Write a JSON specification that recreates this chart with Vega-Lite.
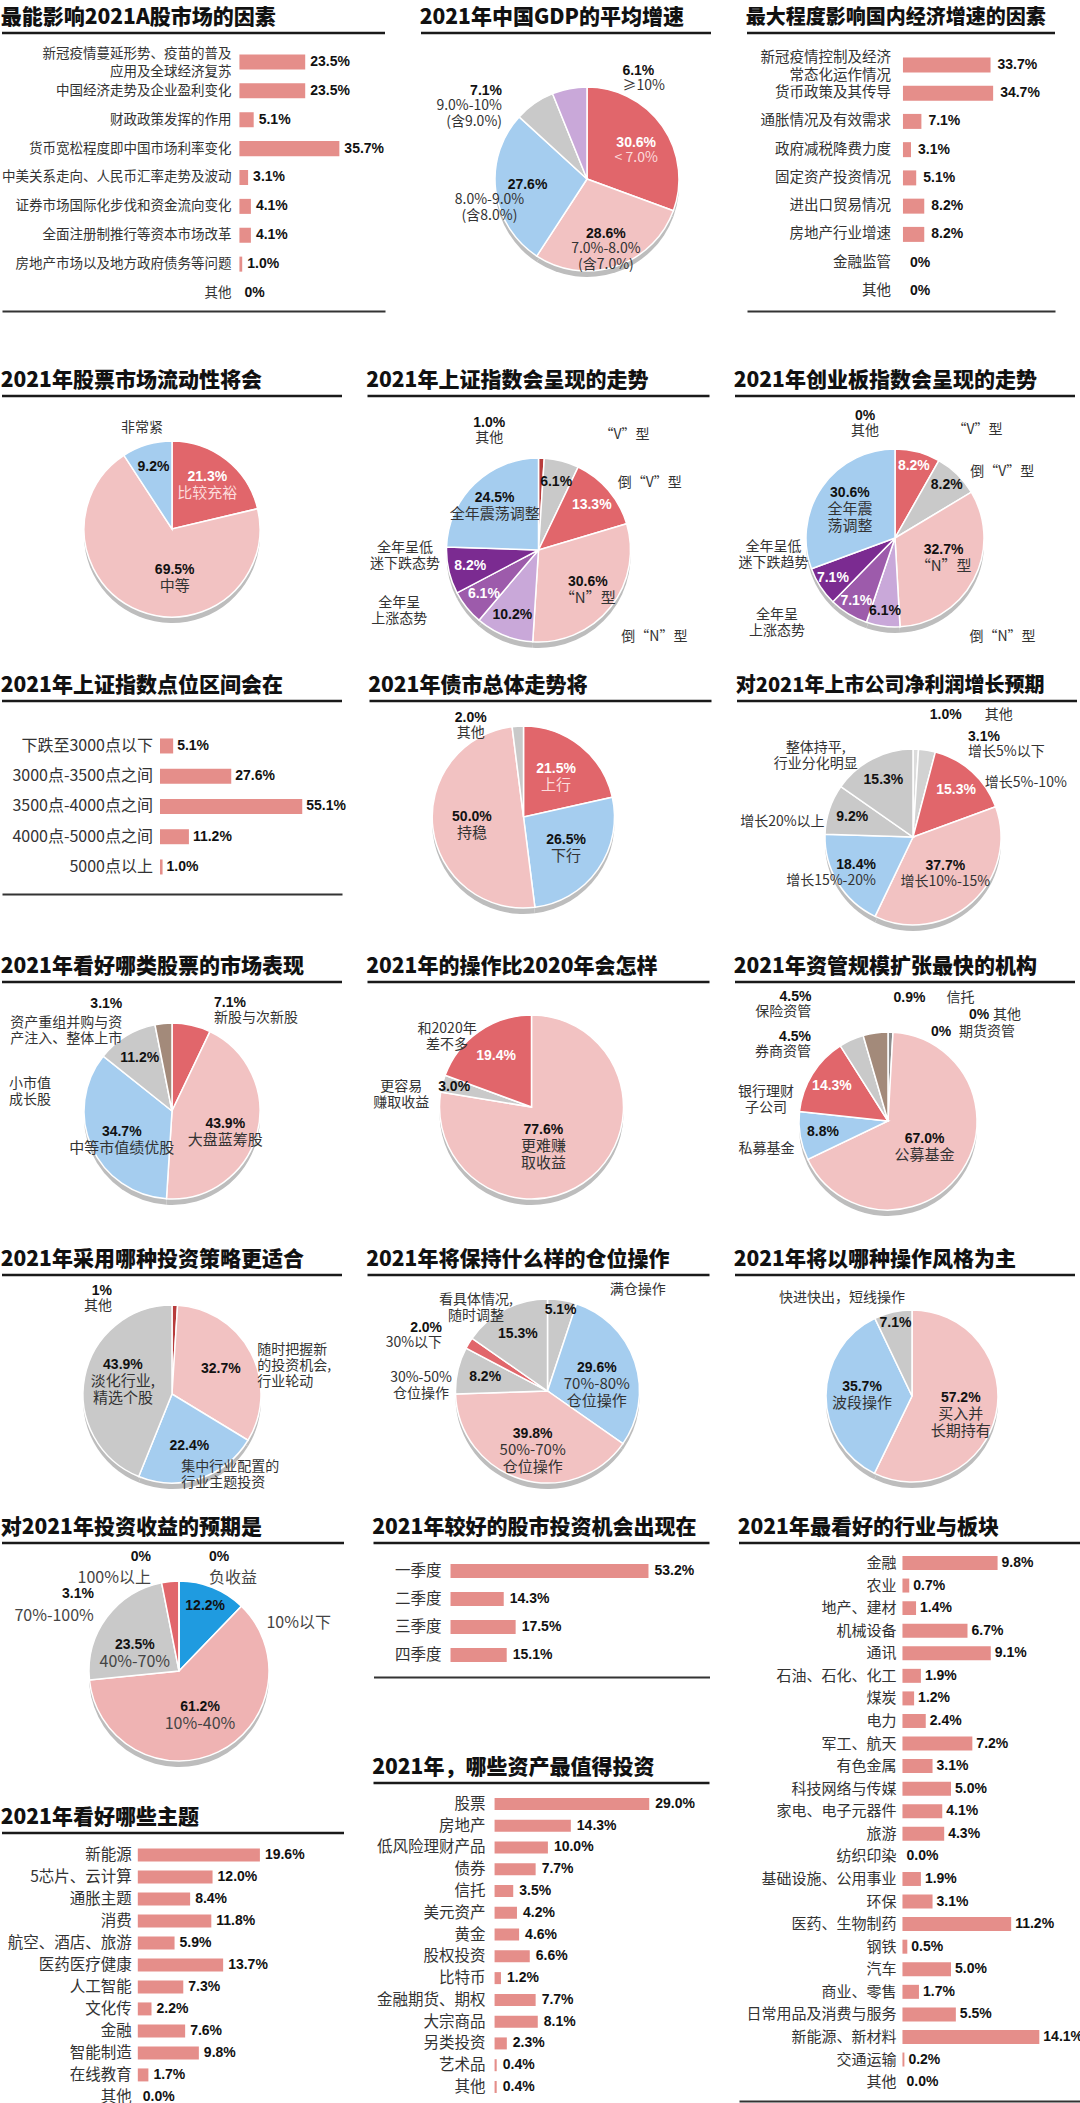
{
"$schema":"https://vega.github.io/schema/vega-lite/v6.json",
"background":"#ffffff",
"padding":{"top":7,"left":0,"right":0,"bottom":0},
"config":{
 "view":{"stroke":null},
 "title":{"anchor":"start","font":"Noto Sans CJK SC","fontSize":21,"fontWeight":900,"color":"#111111","offset":3,"baseline":"alphabetic"},
 "text":{"font":"Noto Sans CJK SC","fontSize":14,"lineBreak":"\n"},
 "style":{"pct":{"font":"Liberation Sans Narrow, Liberation Sans, Arial, sans-serif","fontWeight":"bold","fontSize":14.5},"nm":{"font":"Noto Sans CJK SC","fontSize":14}}
},
"resolve":{"scale":{"color":"independent","theta":"independent"}},
"spacing":47,
"vconcat":[
{"spacing":32,"resolve":{"scale":{"color":"independent","theta":"independent"}},"hconcat":[
 {"spacing":0,"vconcat":[
  {"width":383,"height":2,"title":"最能影响2021A股市场的因素","data":{"values":[{"t":1}]},"mark":{"type":"rule","color":"#1a1a1a","strokeWidth":2.5},"encoding":{"y":{"datum":0,"type":"quantitative","scale":{"domain":[0,1]},"axis":null}}},
  {"width":383,"height":276,"data":{"values":[
   {"k":"新冠疫情蔓延形势、疫苗的普及\n应用及全球经济复苏","v":23.5,"t":"23.5%"},
   {"k":"中国经济走势及企业盈利变化","v":23.5,"t":"23.5%"},
   {"k":"财政政策发挥的作用","v":5.1,"t":"5.1%"},
   {"k":"货币宽松程度即中国市场利率变化","v":35.7,"t":"35.7%"},
   {"k":"中美关系走向、人民币汇率走势及波动","v":3.1,"t":"3.1%"},
   {"k":"证券市场国际化步伐和资金流向变化","v":4.1,"t":"4.1%"},
   {"k":"全面注册制推行等资本市场改革","v":4.1,"t":"4.1%"},
   {"k":"房地产市场以及地方政府债务等问题","v":1.0,"t":"1.0%"},
   {"k":"其他","v":0,"t":"0%"}]},
   "encoding":{"y":{"field":"k","type":"nominal","sort":null,"axis":null,"scale":{"paddingInner":0.48,"paddingOuter":0.519,"align":0.65}}},
   "layer":[
    {"mark":{"type":"bar","color":"#e58e8a"},"encoding":{"x":{"field":"v","type":"quantitative","scale":{"domain":[-84.8,52],"nice":false,"zero":false},"axis":{"orient":"bottom","domain":true,"domainColor":"#333333","domainWidth":2,"ticks":false,"labels":false,"grid":false,"title":null}},"x2":{"datum":0}}},
    {"mark":{"type":"rule","color":"#333333","strokeWidth":1.5},"encoding":{"x":{"datum":0}}},
    {"transform":[{"filter":"indexof(datum.k,'\\n')<0"}],"mark":{"type":"text","align":"right","dx":-8,"fontSize":13.5,"color":"#333333"},"encoding":{"x":{"datum":0},"text":{"field":"k"}}},
    {"transform":[{"filter":"indexof(datum.k,'\\n')>=0"}],"mark":{"type":"text","align":"right","dx":-8,"dy":-8,"fontSize":13.5,"lineHeight":18,"color":"#333333"},"encoding":{"x":{"datum":0},"text":{"field":"k"}}},
    {"mark":{"type":"text","style":"pct","align":"left","dx":5,"color":"#111111"},"encoding":{"x":{"field":"v","type":"quantitative"},"text":{"field":"t"}}}
   ]}
 ]},
 {"spacing":0,"vconcat":[
  {"width":290,"height":2,"title":"2021年中国GDP的平均增速","data":{"values":[{"t":1}]},"mark":{"type":"rule","color":"#1a1a1a","strokeWidth":2.5},"encoding":{"y":{"datum":0,"type":"quantitative","scale":{"domain":[0,1]},"axis":null}}},
  {"width":290,"height":288,
   "data":{"values":[{"k":"a","v":30.6,"pct":"30.6%","name":"< 7.0%"},{"k":"b","v":28.6,"pct":"28.6%","name":"7.0%-8.0%\n(含7.0%)"},{"k":"c","v":27.6,"pct":"27.6%","name":"8.0%-9.0%\n(含8.0%)"},{"k":"d","v":7.1,"pct":"7.1%","name":"9.0%-10%\n(含9.0%)"},{"k":"e","v":6.1,"pct":"6.1%","name":"≥10%"}]},
   "transform":[{"window":[{"op":"row_number","as":"o"}]}],
   "encoding":{"theta":{"field":"v","type":"quantitative","stack":true},"order":{"field":"o","type":"quantitative"}},
   "layer":[
    {"mark":{"type":"arc","outerRadius":92,"color":"#bdbdbd","xOffset":21,"yOffset":6}},
    {"mark":{"type":"arc","outerRadius":92,"stroke":"#ffffff","strokeWidth":1.5,"xOffset":21},"encoding":{"color":{"field":"k","type":"nominal","legend":null,"scale":{"domain":["a","b","c","d","e"],"range":["#e1666b","#f2c2c2","#a5cdef","#c9c9c9","#c9a8d9"]}}}},
    {"mark":{"type":"text","clip":true,"style":"pct","radius":60,"xOffset":21,"dy":5,"baseline":"bottom"},"encoding":{"text":{"condition":{"test":"indexof(['a','b','c'],datum.k)>=0","field":"pct"},"value":""},"color":{"condition":{"test":"datum.k=='a'","value":"#ffffff"},"value":"#111111"}}},
    {"mark":{"type":"text","clip":true,"style":"nm","radius":60,"xOffset":21,"dy":6,"baseline":"top"},"encoding":{"text":{"condition":{"test":"indexof(['a','b'],datum.k)>=0","field":"name"},"value":""},"color":{"condition":{"test":"datum.k=='a'","value":"#fcdcdc"},"value":"#333333"}}},
    {"mark":{"type":"text","clip":true,"style":"nm","radius":60,"xOffset":21,"dx":-38,"dy":6,"baseline":"top"},"encoding":{"text":{"condition":{"test":"datum.k=='c'","field":"name"},"value":""},"color":{"value":"#333333"}}},
    {"mark":{"type":"text","clip":true,"style":"pct","radius":100,"xOffset":21,"dx":-28,"dy":1,"align":"right","baseline":"bottom"},"encoding":{"text":{"condition":{"test":"datum.k=='d'","field":"pct"},"value":""},"color":{"value":"#111111"}}},
    {"mark":{"type":"text","clip":true,"style":"nm","radius":100,"xOffset":21,"dx":-28,"dy":2,"align":"right","baseline":"top"},"encoding":{"text":{"condition":{"test":"datum.k=='d'","field":"name"},"value":""},"color":{"value":"#333333"}}},
    {"mark":{"type":"text","clip":true,"style":"pct","radius":103,"xOffset":21,"dx":55,"align":"left","baseline":"bottom"},"encoding":{"text":{"condition":{"test":"datum.k=='e'","field":"pct"},"value":""},"color":{"value":"#111111"}}},
    {"mark":{"type":"text","clip":true,"style":"nm","radius":103,"xOffset":21,"dx":55,"dy":1,"align":"left","baseline":"top"},"encoding":{"text":{"condition":{"test":"datum.k=='e'","field":"name"},"value":""},"color":{"value":"#333333"}}}
   ]}
 ]},
 {"spacing":0,"vconcat":[
  {"width":308,"height":2,"title":{"text":"最大程度影响国内经济增速的因素","fontSize":20},"data":{"values":[{"t":1}]},"mark":{"type":"rule","color":"#1a1a1a","strokeWidth":2.5},"encoding":{"y":{"datum":0,"type":"quantitative","scale":{"domain":[0,1]},"axis":null}}},
  {"width":308,"height":276,"data":{"values":[
   {"k":"新冠疫情控制及经济\n常态化运作情况","v":33.7,"t":"33.7%"},
   {"k":"货币政策及其传导","v":34.7,"t":"34.7%"},
   {"k":"通胀情况及有效需求","v":7.1,"t":"7.1%"},
   {"k":"政府减税降费力度","v":3.1,"t":"3.1%"},
   {"k":"固定资产投资情况","v":5.1,"t":"5.1%"},
   {"k":"进出口贸易情况","v":8.2,"t":"8.2%"},
   {"k":"房地产行业增速","v":8.2,"t":"8.2%"},
   {"k":"金融监管","v":0,"t":"0%"},
   {"k":"其他","v":0,"t":"0%"}]},
   "encoding":{"y":{"field":"k","type":"nominal","sort":null,"axis":null,"scale":{"paddingInner":0.469,"paddingOuter":0.62,"align":0.64}}},
   "layer":[
    {"mark":{"type":"bar","color":"#e58e8a"},"encoding":{"x":{"field":"v","type":"quantitative","scale":{"domain":[-60,58.5],"nice":false,"zero":false},"axis":{"orient":"bottom","domain":true,"domainColor":"#333333","domainWidth":2,"ticks":false,"labels":false,"grid":false,"title":null}},"x2":{"datum":0}}},
    {"mark":{"type":"rule","color":"#333333","strokeWidth":1.5},"encoding":{"x":{"datum":0}}},
    {"transform":[{"filter":"indexof(datum.k,'\\n')<0"}],"mark":{"type":"text","align":"right","dx":-12,"fontSize":14.5,"color":"#333333"},"encoding":{"x":{"datum":0},"text":{"field":"k"}}},
    {"transform":[{"filter":"indexof(datum.k,'\\n')>=0"}],"mark":{"type":"text","align":"right","dx":-12,"dy":-7,"fontSize":14.5,"lineHeight":18,"color":"#333333"},"encoding":{"x":{"datum":0},"text":{"field":"k"}}},
    {"mark":{"type":"text","style":"pct","align":"left","dx":7,"color":"#111111"},"encoding":{"x":{"field":"v","type":"quantitative"},"text":{"field":"t"}}}
   ]}
 ]}
]},
{"spacing":7,"resolve":{"scale":{"color":"independent","theta":"independent"}},"vconcat":[
{"spacing":21.5,"resolve":{"scale":{"color":"independent","theta":"independent"}},"hconcat":[
 {"spacing":0,"vconcat":[
  {"width":340,"height":2,"title":"2021年股票市场流动性将会","data":{"values":[{"t":1}]},"mark":{"type":"rule","color":"#1a1a1a","strokeWidth":2.5},"encoding":{"y":{"datum":0,"type":"quantitative","scale":{"domain":[0,1]},"axis":null}}},
  {"width":340,"height":262,
   "data":{"values":[{"k":"a","v":21.3,"pct":"21.3%","name":"比较充裕"},{"k":"b","v":69.5,"pct":"69.5%","name":"中等"},{"k":"c","v":9.2,"pct":"9.2%","name":"非常紧"}]},
   "transform":[{"window":[{"op":"row_number","as":"o"}]}],
   "encoding":{"theta":{"field":"v","type":"quantitative","stack":true},"order":{"field":"o","type":"quantitative"}},
   "layer":[
    {"mark":{"type":"arc","outerRadius":88,"color":"#bdbdbd","yOffset":6}},
    {"mark":{"type":"arc","outerRadius":88,"stroke":"#ffffff","strokeWidth":1.5},"encoding":{"color":{"field":"k","type":"nominal","legend":null,"scale":{"domain":["a","b","c"],"range":["#e1666b","#f2c2c2","#a5cdef"]}}}},
    {"mark":{"type":"text","clip":true,"style":"pct","radius":57,"baseline":"bottom"},"encoding":{"text":{"condition":{"test":"datum.k=='a'","field":"pct"},"value":""},"color":{"value":"#ffffff"}}},
    {"mark":{"type":"text","clip":true,"style":"nm","radius":57,"dy":2,"baseline":"top","fontSize":15},"encoding":{"text":{"condition":{"test":"datum.k=='a'","field":"name"},"value":""},"color":{"value":"#fcdcdc"}}},
    {"mark":{"type":"text","clip":true,"style":"pct","radius":52,"dx":22,"baseline":"bottom"},"encoding":{"text":{"condition":{"test":"datum.k=='b'","field":"pct"},"value":""},"color":{"value":"#111111"}}},
    {"mark":{"type":"text","clip":true,"style":"nm","radius":52,"dx":22,"dy":2,"baseline":"top","fontSize":15},"encoding":{"text":{"condition":{"test":"datum.k=='b'","field":"name"},"value":""},"color":{"value":"#333333"}}},
    {"mark":{"type":"text","clip":true,"style":"pct","radius":65,"baseline":"middle"},"encoding":{"text":{"condition":{"test":"datum.k=='c'","field":"pct"},"value":""},"color":{"value":"#111111"}}},
    {"mark":{"type":"text","clip":true,"style":"nm","radius":105,"baseline":"middle"},"encoding":{"text":{"condition":{"test":"datum.k=='c'","field":"name"},"value":""},"color":{"value":"#333333"}}}
   ]}
 ]},
 {"spacing":0,"vconcat":[
  {"width":342,"height":2,"title":"2021年上证指数会呈现的走势","data":{"values":[{"t":1}]},"mark":{"type":"rule","color":"#1a1a1a","strokeWidth":2.5},"encoding":{"y":{"datum":0,"type":"quantitative","scale":{"domain":[0,1]},"axis":null}}},
  {"width":342,"height":270,
   "data":{"values":[{"k":"a","v":1.0,"pct":"1.0%","name":"其他"},{"k":"b","v":6.1,"pct":"6.1%","name":"“V”型"},{"k":"c","v":13.3,"pct":"13.3%","name":"倒“V”型"},{"k":"d","v":30.6,"pct":"30.6%","name":"“N”型"},{"k":"e","v":10.2,"pct":"10.2%","name":"倒“N”型"},{"k":"f","v":6.1,"pct":"6.1%","name":"全年呈\n上涨态势"},{"k":"g","v":8.2,"pct":"8.2%","name":"全年呈低\n迷下跌态势"},{"k":"h","v":24.5,"pct":"24.5%","name":"全年震荡调整"}]},
   "transform":[{"window":[{"op":"row_number","as":"o"}]}],
   "encoding":{"theta":{"field":"v","type":"quantitative","stack":true},"order":{"field":"o","type":"quantitative"}},
   "layer":[
    {"mark":{"type":"arc","outerRadius":92,"color":"#bdbdbd","yOffset":23}},
    {"mark":{"type":"arc","outerRadius":92,"stroke":"#ffffff","strokeWidth":1.5,"yOffset":17},"encoding":{"color":{"field":"k","type":"nominal","legend":null,"scale":{"domain":["a","b","c","d","e","f","g","h"],"range":["#b83c3c","#c9c9c9","#e1666b","#f2c2c2","#c9a8d9","#9d5bab","#7b2b91","#a5cdef"]}}}},
    {"mark":{"type":"text","clip":true,"style":"pct","radius":70,"yOffset":17,"baseline":"middle"},"encoding":{"text":{"condition":{"test":"indexof(['b','c','e','f','g'],datum.k)>=0","field":"pct"},"value":""},"color":{"condition":{"test":"indexof(['c','f','g'],datum.k)>=0","value":"#ffffff"},"value":"#111111"}}},
    {"mark":{"type":"text","clip":true,"style":"pct","radius":63,"yOffset":17,"baseline":"bottom"},"encoding":{"text":{"condition":{"test":"indexof(['d','h'],datum.k)>=0","field":"pct"},"value":""},"color":{"value":"#111111"}}},
    {"mark":{"type":"text","clip":true,"style":"nm","radius":63,"yOffset":17,"dy":2,"baseline":"top","fontSize":15},"encoding":{"text":{"condition":{"test":"indexof(['d','h'],datum.k)>=0","field":"name"},"value":""},"color":{"value":"#333333"}}},
    {"mark":{"type":"text","clip":true,"style":"pct","radius":120,"yOffset":17,"dx":-53,"baseline":"bottom"},"encoding":{"text":{"condition":{"test":"datum.k=='a'","field":"pct"},"value":""},"color":{"value":"#111111"}}},
    {"mark":{"type":"text","clip":true,"style":"nm","radius":120,"yOffset":17,"dx":-53,"dy":1,"baseline":"top"},"encoding":{"text":{"condition":{"test":"datum.k=='a'","field":"name"},"value":""},"color":{"value":"#333333"}}},
    {"mark":{"type":"text","clip":true,"style":"nm","radius":119,"yOffset":17,"dx":56,"baseline":"middle"},"encoding":{"text":{"condition":{"test":"datum.k=='b'","field":"name"},"value":""},"color":{"value":"#333333"}}},
    {"mark":{"type":"text","clip":true,"style":"nm","radius":103,"yOffset":17,"dx":33,"baseline":"middle"},"encoding":{"text":{"condition":{"test":"datum.k=='c'","field":"name"},"value":""},"color":{"value":"#333333"}}},
    {"mark":{"type":"text","clip":true,"style":"nm","radius":94,"yOffset":17,"dx":151,"baseline":"middle"},"encoding":{"text":{"condition":{"test":"datum.k=='e'","field":"name"},"value":""},"color":{"value":"#333333"}}},
    {"mark":{"type":"text","clip":true,"style":"nm","radius":85,"yOffset":17,"dx":-73,"baseline":"middle"},"encoding":{"text":{"condition":{"test":"datum.k=='f'","field":"name"},"value":""},"color":{"value":"#333333"}}},
    {"mark":{"type":"text","clip":true,"style":"nm","radius":100,"yOffset":17,"dx":-36,"dy":-24,"baseline":"middle"},"encoding":{"text":{"condition":{"test":"datum.k=='g'","field":"name"},"value":""},"color":{"value":"#333333"}}}
   ]}
 ]},
 {"spacing":0,"vconcat":[
  {"width":340,"height":2,"title":"2021年创业板指数会呈现的走势","data":{"values":[{"t":1}]},"mark":{"type":"rule","color":"#1a1a1a","strokeWidth":2.5},"encoding":{"y":{"datum":0,"type":"quantitative","scale":{"domain":[0,1]},"axis":null}}},
  {"width":340,"height":270,
   "data":{"values":[{"k":"a","v":0,"pct":"0%","name":"其他"},{"k":"b","v":8.2,"pct":"8.2%","name":"“V”型"},{"k":"c","v":8.2,"pct":"8.2%","name":"倒“V”型"},{"k":"d","v":32.7,"pct":"32.7%","name":"“N”型"},{"k":"e","v":6.1,"pct":"6.1%","name":"倒“N”型"},{"k":"f","v":7.1,"pct":"7.1%","name":"全年呈\n上涨态势"},{"k":"g","v":7.1,"pct":"7.1%","name":"全年呈低\n迷下跌趋势"},{"k":"h","v":30.6,"pct":"30.6%","name":"全年震\n荡调整"}]},
   "transform":[{"window":[{"op":"row_number","as":"o"}]}],
   "encoding":{"theta":{"field":"v","type":"quantitative","stack":true},"order":{"field":"o","type":"quantitative"}},
   "layer":[
    {"mark":{"type":"arc","outerRadius":89,"color":"#bdbdbd","xOffset":-10,"yOffset":11}},
    {"mark":{"type":"arc","outerRadius":89,"stroke":"#ffffff","strokeWidth":1.5,"xOffset":-10,"yOffset":5},"encoding":{"color":{"field":"k","type":"nominal","legend":null,"scale":{"domain":["a","b","c","d","e","f","g","h"],"range":["#b83c3c","#e1666b","#c9c9c9","#f2c2c2","#c9a8d9","#9d5bab","#7b2b91","#a5cdef"]}}}},
    {"mark":{"type":"text","clip":true,"style":"pct","radius":74,"xOffset":-10,"yOffset":5,"baseline":"middle"},"encoding":{"text":{"condition":{"test":"indexof(['b','c','e','f','g'],datum.k)>=0","field":"pct"},"value":""},"color":{"condition":{"test":"indexof(['b','f','g'],datum.k)>=0","value":"#ffffff"},"value":"#111111"}}},
    {"mark":{"type":"text","clip":true,"style":"pct","radius":55,"xOffset":-10,"yOffset":5,"dy":-7,"baseline":"bottom"},"encoding":{"text":{"condition":{"test":"indexof(['d','h'],datum.k)>=0","field":"pct"},"value":""},"color":{"value":"#111111"}}},
    {"mark":{"type":"text","clip":true,"style":"nm","radius":55,"xOffset":-10,"yOffset":5,"dy":-5,"baseline":"top","fontSize":15},"encoding":{"text":{"condition":{"test":"indexof(['d','h'],datum.k)>=0","field":"name"},"value":""},"color":{"value":"#333333"}}},
    {"mark":{"type":"text","clip":true,"style":"pct","radius":115,"xOffset":-10,"yOffset":5,"dx":-30,"baseline":"bottom"},"encoding":{"text":{"condition":{"test":"datum.k=='a'","field":"pct"},"value":""},"color":{"value":"#111111"}}},
    {"mark":{"type":"text","clip":true,"style":"nm","radius":115,"xOffset":-10,"yOffset":5,"dx":-30,"dy":1,"baseline":"top"},"encoding":{"text":{"condition":{"test":"datum.k=='a'","field":"name"},"value":""},"color":{"value":"#333333"}}},
    {"mark":{"type":"text","clip":true,"style":"nm","radius":112,"xOffset":-10,"yOffset":5,"dx":54,"baseline":"middle"},"encoding":{"text":{"condition":{"test":"datum.k=='b'","field":"name"},"value":""},"color":{"value":"#333333"}}},
    {"mark":{"type":"text","clip":true,"style":"nm","radius":92,"xOffset":-10,"yOffset":5,"dx":43,"baseline":"middle"},"encoding":{"text":{"condition":{"test":"datum.k=='c'","field":"name"},"value":""},"color":{"value":"#333333"}}},
    {"mark":{"type":"text","clip":true,"style":"nm","radius":100,"xOffset":-10,"yOffset":5,"dx":121,"baseline":"middle"},"encoding":{"text":{"condition":{"test":"datum.k=='e'","field":"name"},"value":""},"color":{"value":"#333333"}}},
    {"mark":{"type":"text","clip":true,"style":"nm","radius":90,"xOffset":-10,"yOffset":5,"dx":-71,"baseline":"middle"},"encoding":{"text":{"condition":{"test":"datum.k=='f'","field":"name"},"value":""},"color":{"value":"#333333"}}},
    {"mark":{"type":"text","clip":true,"style":"nm","radius":40,"xOffset":-10,"yOffset":5,"dx":-88,"dy":-13,"baseline":"middle"},"encoding":{"text":{"condition":{"test":"datum.k=='g'","field":"name"},"value":""},"color":{"value":"#333333"}}}
   ]}
 ]}
]},
{"spacing":9,"resolve":{"scale":{"color":"independent","theta":"independent"}},"vconcat":[
{"spacing":21.5,"resolve":{"scale":{"color":"independent","theta":"independent"}},"hconcat":[
 {"spacing":0,"vconcat":[
  {"width":340,"height":2,"title":"2021年上证指数点位区间会在","data":{"values":[{"t":1}]},"mark":{"type":"rule","color":"#1a1a1a","strokeWidth":2.5},"encoding":{"y":{"datum":0,"type":"quantitative","scale":{"domain":[0,1]},"axis":null}}},
  {"width":340,"height":191,"data":{"values":[
   {"k":"下跌至3000点以下","v":5.1,"t":"5.1%"},
   {"k":"3000点-3500点之间","v":27.6,"t":"27.6%"},
   {"k":"3500点-4000点之间","v":55.1,"t":"55.1%"},
   {"k":"4000点-5000点之间","v":11.2,"t":"11.2%"},
   {"k":"5000点以上","v":1.0,"t":"1.0%"}]},
   "encoding":{"y":{"field":"k","type":"nominal","sort":null,"axis":null,"scale":{"paddingInner":0.504,"paddingOuter":0.909,"align":0.645}}},
   "layer":[
    {"mark":{"type":"bar","color":"#e58e8a"},"encoding":{"x":{"field":"v","type":"quantitative","scale":{"domain":[-61.2,70.5],"nice":false,"zero":false},"axis":{"orient":"bottom","domain":true,"domainColor":"#333333","domainWidth":2,"ticks":false,"labels":false,"grid":false,"title":null}},"x2":{"datum":0}}},
    {"mark":{"type":"rule","color":"#333333","strokeWidth":1.5},"encoding":{"x":{"datum":0}}},
    {"mark":{"type":"text","align":"right","dx":-7,"fontSize":16,"color":"#333333"},"encoding":{"x":{"datum":0},"text":{"field":"k"}}},
    {"mark":{"type":"text","style":"pct","align":"left","dx":4,"color":"#111111"},"encoding":{"x":{"field":"v","type":"quantitative"},"text":{"field":"t"}}}
   ]}
 ]},
 {"spacing":0,"vconcat":[
  {"width":342,"height":2,"title":"2021年债市总体走势将","data":{"values":[{"t":1}]},"mark":{"type":"rule","color":"#1a1a1a","strokeWidth":2.5},"encoding":{"y":{"datum":0,"type":"quantitative","scale":{"domain":[0,1]},"axis":null}}},
  {"width":342,"height":228,
   "data":{"values":[{"k":"a","v":21.5,"pct":"21.5%","name":"上行"},{"k":"b","v":26.5,"pct":"26.5%","name":"下行"},{"k":"c","v":50.0,"pct":"50.0%","name":"持稳"},{"k":"d","v":2.0,"pct":"2.0%","name":"其他"}]},
   "transform":[{"window":[{"op":"row_number","as":"o"}]}],
   "encoding":{"theta":{"field":"v","type":"quantitative","stack":true},"order":{"field":"o","type":"quantitative"}},
   "layer":[
    {"mark":{"type":"arc","outerRadius":91,"color":"#bdbdbd","xOffset":-17,"yOffset":6}},
    {"mark":{"type":"arc","outerRadius":91,"stroke":"#ffffff","strokeWidth":1.5,"xOffset":-17},"encoding":{"color":{"field":"k","type":"nominal","legend":null,"scale":{"domain":["a","b","c","d"],"range":["#e1666b","#a5cdef","#f2c2c2","#c9c9c9"]}}}},
    {"mark":{"type":"text","clip":true,"style":"pct","radius":52,"xOffset":-17,"baseline":"bottom"},"encoding":{"text":{"condition":{"test":"indexof(['a','b','c'],datum.k)>=0","field":"pct"},"value":""},"color":{"condition":{"test":"datum.k=='a'","value":"#ffffff"},"value":"#111111"}}},
    {"mark":{"type":"text","clip":true,"style":"nm","radius":52,"xOffset":-17,"dy":2,"baseline":"top","fontSize":15},"encoding":{"text":{"condition":{"test":"indexof(['a','b','c'],datum.k)>=0","field":"name"},"value":""},"color":{"condition":{"test":"datum.k=='a'","value":"#fcdcdc"},"value":"#333333"}}},
    {"mark":{"type":"text","clip":true,"style":"pct","radius":92,"xOffset":-17,"dx":-47,"baseline":"bottom"},"encoding":{"text":{"condition":{"test":"datum.k=='d'","field":"pct"},"value":""},"color":{"value":"#111111"}}},
    {"mark":{"type":"text","clip":true,"style":"nm","radius":92,"xOffset":-17,"dx":-47,"dy":1,"baseline":"top"},"encoding":{"text":{"condition":{"test":"datum.k=='d'","field":"name"},"value":""},"color":{"value":"#333333"}}}
   ]}
 ]},
 {"spacing":0,"vconcat":[
  {"width":340,"height":2,"title":{"text":"对2021年上市公司净利润增长预期","fontSize":20},"data":{"values":[{"t":1}]},"mark":{"type":"rule","color":"#1a1a1a","strokeWidth":2.5},"encoding":{"y":{"datum":0,"type":"quantitative","scale":{"domain":[0,1]},"axis":null}}},
  {"width":340,"height":244,
   "data":{"values":[{"k":"a","v":1.0,"pct":"1.0%","name":"其他"},{"k":"b","v":3.1,"pct":"3.1%","name":"增长5%以下"},{"k":"c","v":15.3,"pct":"15.3%","name":"增长5%-10%"},{"k":"d","v":37.7,"pct":"37.7%","name":"增长10%-15%"},{"k":"e","v":18.4,"pct":"18.4%","name":"增长15%-20%"},{"k":"f","v":9.2,"pct":"9.2%","name":"增长20%以上"},{"k":"g","v":15.3,"pct":"15.3%","name":"整体持平,\n行业分化明显"}]},
   "transform":[{"window":[{"op":"row_number","as":"o"}]}],
   "encoding":{"theta":{"field":"v","type":"quantitative","stack":true},"order":{"field":"o","type":"quantitative"}},
   "layer":[
    {"mark":{"type":"arc","outerRadius":88,"color":"#bdbdbd","xOffset":6,"yOffset":18}},
    {"mark":{"type":"arc","outerRadius":88,"stroke":"#ffffff","strokeWidth":1.5,"xOffset":6,"yOffset":12},"encoding":{"color":{"field":"k","type":"nominal","legend":null,"scale":{"domain":["a","b","c","d","e","f","g"],"range":["#dcdcdc","#d2d2d2","#e1666b","#f2c2c2","#a5cdef","#c9c9c9","#c9c9c9"]}}}},
    {"mark":{"type":"text","clip":true,"style":"pct","radius":64,"xOffset":6,"yOffset":12,"baseline":"middle"},"encoding":{"text":{"condition":{"test":"indexof(['c','f','g'],datum.k)>=0","field":"pct"},"value":""},"color":{"condition":{"test":"datum.k=='c'","value":"#ffffff"},"value":"#111111"}}},
    {"mark":{"type":"text","clip":true,"style":"pct","radius":48,"xOffset":6,"yOffset":12,"baseline":"bottom"},"encoding":{"text":{"condition":{"test":"datum.k=='d'","field":"pct"},"value":""},"color":{"value":"#111111"}}},
    {"mark":{"type":"text","clip":true,"style":"nm","radius":48,"xOffset":6,"yOffset":12,"dy":2,"baseline":"top"},"encoding":{"text":{"condition":{"test":"datum.k=='d'","field":"name"},"value":""},"color":{"value":"#333333"}}},
    {"mark":{"type":"text","clip":true,"style":"pct","radius":55,"xOffset":6,"yOffset":12,"dx":-10,"dy":6,"baseline":"bottom"},"encoding":{"text":{"condition":{"test":"datum.k=='e'","field":"pct"},"value":""},"color":{"value":"#111111"}}},
    {"mark":{"type":"text","clip":true,"style":"nm","radius":55,"xOffset":6,"yOffset":12,"dx":-35,"dy":8,"baseline":"top"},"encoding":{"text":{"condition":{"test":"datum.k=='e'","field":"name"},"value":""},"color":{"value":"#333333"}}},
    {"mark":{"type":"text","clip":true,"style":"pct","radius":122,"xOffset":6,"yOffset":12,"dx":13,"align":"left","baseline":"middle"},"encoding":{"text":{"condition":{"test":"datum.k=='a'","field":"pct"},"value":""},"color":{"value":"#111111"}}},
    {"mark":{"type":"text","clip":true,"style":"nm","radius":122,"xOffset":6,"yOffset":12,"dx":68,"align":"left","baseline":"middle"},"encoding":{"text":{"condition":{"test":"datum.k=='a'","field":"name"},"value":""},"color":{"value":"#333333"}}},
    {"mark":{"type":"text","clip":true,"style":"pct","radius":94,"xOffset":6,"yOffset":12,"dx":40,"align":"left","baseline":"bottom"},"encoding":{"text":{"condition":{"test":"datum.k=='b'","field":"pct"},"value":""},"color":{"value":"#111111"}}},
    {"mark":{"type":"text","clip":true,"style":"nm","radius":94,"xOffset":6,"yOffset":12,"dx":40,"dy":1,"align":"left","baseline":"top"},"encoding":{"text":{"condition":{"test":"datum.k=='b'","field":"name"},"value":""},"color":{"value":"#333333"}}},
    {"mark":{"type":"text","clip":true,"style":"nm","radius":80,"xOffset":6,"yOffset":12,"dx":18,"dy":5,"align":"left","baseline":"middle"},"encoding":{"text":{"condition":{"test":"datum.k=='c'","field":"name"},"value":""},"color":{"value":"#333333"}}},
    {"mark":{"type":"text","clip":true,"style":"nm","radius":90,"xOffset":6,"yOffset":12,"dx":-3,"dy":13,"align":"right","baseline":"middle"},"encoding":{"text":{"condition":{"test":"datum.k=='f'","field":"name"},"value":""},"color":{"value":"#333333"}}},
    {"mark":{"type":"text","clip":true,"style":"nm","radius":100,"xOffset":6,"yOffset":12,"dx":-51,"baseline":"middle"},"encoding":{"text":{"condition":{"test":"datum.k=='g'","field":"name"},"value":""},"color":{"value":"#333333"}}}
   ]}
 ]}
]},
{"spacing":5,"resolve":{"scale":{"color":"independent","theta":"independent"}},"vconcat":[
{"spacing":21.5,"resolve":{"scale":{"color":"independent","theta":"independent"}},"hconcat":[
 {"spacing":0,"vconcat":[
  {"width":340,"height":2,"title":"2021年看好哪类股票的市场表现","data":{"values":[{"t":1}]},"mark":{"type":"rule","color":"#1a1a1a","strokeWidth":2.5},"encoding":{"y":{"datum":0,"type":"quantitative","scale":{"domain":[0,1]},"axis":null}}},
  {"width":340,"height":254,
   "data":{"values":[{"k":"a","v":7.1,"pct":"7.1%","name":"新股与次新股"},{"k":"b","v":43.9,"pct":"43.9%","name":"大盘蓝筹股"},{"k":"c","v":34.7,"pct":"34.7%","name":"中等市值绩优股"},{"k":"d","v":11.2,"pct":"11.2%","name":"小市值\n成长股"},{"k":"e","v":3.1,"pct":"3.1%","name":"资产重组并购与资\n产注入、整体上市"}]},
   "transform":[{"window":[{"op":"row_number","as":"o"}]}],
   "encoding":{"theta":{"field":"v","type":"quantitative","stack":true},"order":{"field":"o","type":"quantitative"}},
   "layer":[
    {"mark":{"type":"arc","outerRadius":88,"color":"#bdbdbd","yOffset":6}},
    {"mark":{"type":"arc","outerRadius":88,"stroke":"#ffffff","strokeWidth":1.5},"encoding":{"color":{"field":"k","type":"nominal","legend":null,"scale":{"domain":["a","b","c","d","e"],"range":["#e1666b","#f2c2c2","#a5cdef","#c9c9c9","#a38a7a"]}}}},
    {"mark":{"type":"text","clip":true,"style":"pct","radius":55,"dy":6,"baseline":"bottom"},"encoding":{"text":{"condition":{"test":"indexof(['b','c'],datum.k)>=0","field":"pct"},"value":""},"color":{"value":"#111111"}}},
    {"mark":{"type":"text","clip":true,"style":"nm","radius":55,"dy":8,"baseline":"top","fontSize":15},"encoding":{"text":{"condition":{"test":"indexof(['b','c'],datum.k)>=0","field":"name"},"value":""},"color":{"value":"#333333"}}},
    {"mark":{"type":"text","clip":true,"style":"pct","radius":62,"baseline":"middle"},"encoding":{"text":{"condition":{"test":"datum.k=='d'","field":"pct"},"value":""},"color":{"value":"#111111"}}},
    {"mark":{"type":"text","clip":true,"style":"pct","radius":104,"dx":19,"align":"left","baseline":"bottom"},"encoding":{"text":{"condition":{"test":"datum.k=='a'","field":"pct"},"value":""},"color":{"value":"#111111"}}},
    {"mark":{"type":"text","clip":true,"style":"nm","radius":104,"dx":19,"dy":1,"align":"left","baseline":"top"},"encoding":{"text":{"condition":{"test":"datum.k=='a'","field":"name"},"value":""},"color":{"value":"#333333"}}},
    {"mark":{"type":"text","clip":true,"style":"pct","radius":100,"dx":-40,"align":"right","baseline":"bottom"},"encoding":{"text":{"condition":{"test":"datum.k=='e'","field":"pct"},"value":""},"color":{"value":"#111111"}}},
    {"mark":{"type":"text","clip":true,"style":"nm","radius":100,"dx":-40,"dy":5,"align":"right","baseline":"top"},"encoding":{"text":{"condition":{"test":"datum.k=='e'","field":"name"},"value":""},"color":{"value":"#333333"}}},
    {"mark":{"type":"text","clip":true,"style":"nm","radius":100,"dx":-90,"dy":58,"baseline":"middle"},"encoding":{"text":{"condition":{"test":"datum.k=='d'","field":"name"},"value":""},"color":{"value":"#333333"}}}
   ]}
 ]},
 {"spacing":0,"vconcat":[
  {"width":342,"height":2,"title":"2021年的操作比2020年会怎样","data":{"values":[{"t":1}]},"mark":{"type":"rule","color":"#1a1a1a","strokeWidth":2.5},"encoding":{"y":{"datum":0,"type":"quantitative","scale":{"domain":[0,1]},"axis":null}}},
  {"width":342,"height":246,
   "data":{"values":[{"k":"a","v":77.6,"pct":"77.6%","name":"更难赚\n取收益"},{"k":"b","v":3.0,"pct":"3.0%","name":"更容易\n赚取收益"},{"k":"c","v":19.4,"pct":"19.4%","name":"和2020年\n差不多"}]},
   "transform":[{"window":[{"op":"row_number","as":"o"}]}],
   "encoding":{"theta":{"field":"v","type":"quantitative","stack":true},"order":{"field":"o","type":"quantitative"}},
   "layer":[
    {"mark":{"type":"arc","outerRadius":92,"color":"#bdbdbd","xOffset":-7,"yOffset":6}},
    {"mark":{"type":"arc","outerRadius":92,"stroke":"#ffffff","strokeWidth":1.5,"xOffset":-7},"encoding":{"color":{"field":"k","type":"nominal","legend":null,"scale":{"domain":["a","b","c"],"range":["#f2c2c2","#c9c9c9","#e1666b"]}}}},
    {"mark":{"type":"text","clip":true,"style":"pct","radius":40,"xOffset":-7,"dx":-14,"baseline":"bottom"},"encoding":{"text":{"condition":{"test":"datum.k=='a'","field":"pct"},"value":""},"color":{"value":"#111111"}}},
    {"mark":{"type":"text","clip":true,"style":"nm","radius":40,"xOffset":-7,"dx":-14,"dy":2,"baseline":"top","fontSize":15},"encoding":{"text":{"condition":{"test":"datum.k=='a'","field":"name"},"value":""},"color":{"value":"#333333"}}},
    {"mark":{"type":"text","clip":true,"style":"pct","radius":62,"xOffset":-7,"baseline":"middle"},"encoding":{"text":{"condition":{"test":"datum.k=='c'","field":"pct"},"value":""},"color":{"value":"#ffffff"}}},
    {"mark":{"type":"text","clip":true,"style":"nm","radius":95,"xOffset":-7,"dx":-30,"baseline":"middle"},"encoding":{"text":{"condition":{"test":"datum.k=='c'","field":"name"},"value":""},"color":{"value":"#333333"}}},
    {"mark":{"type":"text","clip":true,"style":"pct","radius":80,"xOffset":-7,"baseline":"middle"},"encoding":{"text":{"condition":{"test":"datum.k=='b'","field":"pct"},"value":""},"color":{"value":"#111111"}}},
    {"mark":{"type":"text","clip":true,"style":"nm","radius":80,"xOffset":-7,"dx":-53,"baseline":"middle"},"encoding":{"text":{"condition":{"test":"datum.k=='b'","field":"name"},"value":""},"color":{"value":"#333333"}}}
   ]}
 ]},
 {"spacing":0,"vconcat":[
  {"width":340,"height":2,"title":"2021年资管规模扩张最快的机构","data":{"values":[{"t":1}]},"mark":{"type":"rule","color":"#1a1a1a","strokeWidth":2.5},"encoding":{"y":{"datum":0,"type":"quantitative","scale":{"domain":[0,1]},"axis":null}}},
  {"width":340,"height":260,
   "data":{"values":[{"k":"a","v":0,"pct":"0%","name":"期货资管"},{"k":"b","v":0,"pct":"0%","name":"其他"},{"k":"c","v":0.9,"pct":"0.9%","name":"信托"},{"k":"d","v":67.0,"pct":"67.0%","name":"公募基金"},{"k":"e","v":8.8,"pct":"8.8%","name":"私募基金"},{"k":"f","v":14.3,"pct":"14.3%","name":"银行理财\n子公司"},{"k":"g","v":4.5,"pct":"4.5%","name":"券商资管"},{"k":"h","v":4.5,"pct":"4.5%","name":"保险资管"}]},
   "transform":[{"window":[{"op":"row_number","as":"o"}]}],
   "encoding":{"theta":{"field":"v","type":"quantitative","stack":true},"order":{"field":"o","type":"quantitative"}},
   "layer":[
    {"mark":{"type":"arc","outerRadius":89,"color":"#bdbdbd","xOffset":-17,"yOffset":13}},
    {"mark":{"type":"arc","outerRadius":89,"stroke":"#ffffff","strokeWidth":1.5,"xOffset":-17,"yOffset":7},"encoding":{"color":{"field":"k","type":"nominal","legend":null,"scale":{"domain":["a","b","c","d","e","f","g","h"],"range":["#b83c3c","#b83c3c","#8c8c8c","#f2c2c2","#a5cdef","#e1666b","#c9c9c9","#a38a7a"]}}}},
    {"mark":{"type":"text","clip":true,"style":"pct","radius":44,"xOffset":-17,"yOffset":7,"baseline":"bottom"},"encoding":{"text":{"condition":{"test":"datum.k=='d'","field":"pct"},"value":""},"color":{"value":"#111111"}}},
    {"mark":{"type":"text","clip":true,"style":"nm","radius":44,"xOffset":-17,"yOffset":7,"dy":2,"baseline":"top","fontSize":15},"encoding":{"text":{"condition":{"test":"datum.k=='d'","field":"name"},"value":""},"color":{"value":"#333333"}}},
    {"mark":{"type":"text","clip":true,"style":"pct","radius":66,"xOffset":-17,"yOffset":7,"baseline":"middle"},"encoding":{"text":{"condition":{"test":"indexof(['e','f'],datum.k)>=0","field":"pct"},"value":""},"color":{"condition":{"test":"datum.k=='f'","value":"#ffffff"},"value":"#111111"}}},
    {"mark":{"type":"text","clip":true,"style":"nm","radius":100,"xOffset":-17,"yOffset":7,"dx":-23,"dy":11,"baseline":"middle"},"encoding":{"text":{"condition":{"test":"datum.k=='e'","field":"name"},"value":""},"color":{"value":"#333333"}}},
    {"mark":{"type":"text","clip":true,"style":"nm","radius":100,"xOffset":-17,"yOffset":7,"dx":-37,"dy":24,"baseline":"middle"},"encoding":{"text":{"condition":{"test":"datum.k=='f'","field":"name"},"value":""},"color":{"value":"#333333"}}},
    {"mark":{"type":"text","clip":true,"style":"pct","radius":85,"xOffset":-17,"yOffset":7,"dx":-42,"align":"right","baseline":"bottom"},"encoding":{"text":{"condition":{"test":"datum.k=='g'","field":"pct"},"value":""},"color":{"value":"#111111"}}},
    {"mark":{"type":"text","clip":true,"style":"nm","radius":85,"xOffset":-17,"yOffset":7,"dx":-42,"dy":1,"align":"right","baseline":"top"},"encoding":{"text":{"condition":{"test":"datum.k=='g'","field":"name"},"value":""},"color":{"value":"#333333"}}},
    {"mark":{"type":"text","clip":true,"style":"pct","radius":118,"xOffset":-17,"yOffset":7,"dx":-60,"align":"right","baseline":"bottom"},"encoding":{"text":{"condition":{"test":"datum.k=='h'","field":"pct"},"value":""},"color":{"value":"#111111"}}},
    {"mark":{"type":"text","clip":true,"style":"nm","radius":118,"xOffset":-17,"yOffset":7,"dx":-60,"dy":1,"align":"right","baseline":"top"},"encoding":{"text":{"condition":{"test":"datum.k=='h'","field":"name"},"value":""},"color":{"value":"#333333"}}},
    {"mark":{"type":"text","clip":true,"style":"pct","radius":123,"xOffset":-17,"yOffset":7,"dx":2,"align":"left","baseline":"middle"},"encoding":{"text":{"condition":{"test":"datum.k=='c'","field":"pct"},"value":""},"color":{"value":"#111111"}}},
    {"mark":{"type":"text","clip":true,"style":"nm","radius":123,"xOffset":-17,"yOffset":7,"dx":55,"align":"left","baseline":"middle"},"encoding":{"text":{"condition":{"test":"datum.k=='c'","field":"name"},"value":""},"color":{"value":"#333333"}}},
    {"mark":{"type":"text","clip":true,"style":"pct","radius":106,"xOffset":-17,"yOffset":7,"dx":81,"align":"left","baseline":"middle"},"encoding":{"text":{"condition":{"test":"datum.k=='b'","field":"pct"},"value":""},"color":{"value":"#111111"}}},
    {"mark":{"type":"text","clip":true,"style":"nm","radius":106,"xOffset":-17,"yOffset":7,"dx":105,"align":"left","baseline":"middle"},"encoding":{"text":{"condition":{"test":"datum.k=='b'","field":"name"},"value":""},"color":{"value":"#333333"}}},
    {"mark":{"type":"text","clip":true,"style":"pct","radius":89,"xOffset":-17,"yOffset":7,"dx":43,"align":"left","baseline":"middle"},"encoding":{"text":{"condition":{"test":"datum.k=='a'","field":"pct"},"value":""},"color":{"value":"#111111"}}},
    {"mark":{"type":"text","clip":true,"style":"nm","radius":89,"xOffset":-17,"yOffset":7,"dx":71,"align":"left","baseline":"middle"},"encoding":{"text":{"condition":{"test":"datum.k=='a'","field":"name"},"value":""},"color":{"value":"#333333"}}}
   ]}
 ]}
]},
{"spacing":2,"resolve":{"scale":{"color":"independent","theta":"independent"}},"vconcat":[
{"spacing":21.5,"resolve":{"scale":{"color":"independent","theta":"independent"}},"hconcat":[
 {"spacing":0,"vconcat":[
  {"width":340,"height":2,"title":"2021年采用哪种投资策略更适合","data":{"values":[{"t":1}]},"mark":{"type":"rule","color":"#1a1a1a","strokeWidth":2.5},"encoding":{"y":{"datum":0,"type":"quantitative","scale":{"domain":[0,1]},"axis":null}}},
  {"width":340,"height":234,
   "data":{"values":[{"k":"a","v":1,"pct":"1%","name":"其他"},{"k":"b","v":32.7,"pct":"32.7%","name":"随时把握新\n的投资机会,\n行业轮动"},{"k":"c","v":22.4,"pct":"22.4%","name":"集中行业配置的\n行业主题投资"},{"k":"d","v":43.9,"pct":"43.9%","name":"淡化行业,\n精选个股"}]},
   "transform":[{"window":[{"op":"row_number","as":"o"}]}],
   "encoding":{"theta":{"field":"v","type":"quantitative","stack":true},"order":{"field":"o","type":"quantitative"}},
   "layer":[
    {"mark":{"type":"arc","outerRadius":89,"color":"#bdbdbd","yOffset":6}},
    {"mark":{"type":"arc","outerRadius":89,"stroke":"#ffffff","strokeWidth":1.5},"encoding":{"color":{"field":"k","type":"nominal","legend":null,"scale":{"domain":["a","b","c","d"],"range":["#b83c3c","#f2c2c2","#a5cdef","#c9c9c9"]}}}},
    {"mark":{"type":"text","clip":true,"style":"pct","radius":55,"baseline":"middle"},"encoding":{"text":{"condition":{"test":"indexof(['b','c'],datum.k)>=0","field":"pct"},"value":""},"color":{"value":"#111111"}}},
    {"mark":{"type":"text","clip":true,"style":"pct","radius":50,"dy":-12,"baseline":"bottom"},"encoding":{"text":{"condition":{"test":"datum.k=='d'","field":"pct"},"value":""},"color":{"value":"#111111"}}},
    {"mark":{"type":"text","clip":true,"style":"nm","radius":50,"dy":-10,"baseline":"top","fontSize":15},"encoding":{"text":{"condition":{"test":"datum.k=='d'","field":"name"},"value":""},"color":{"value":"#333333"}}},
    {"mark":{"type":"text","clip":true,"style":"nm","radius":55,"dx":-8,"dy":14,"align":"left","baseline":"top"},"encoding":{"text":{"condition":{"test":"datum.k=='c'","field":"name"},"value":""},"color":{"value":"#333333"}}},
    {"mark":{"type":"text","clip":true,"style":"nm","radius":95,"dx":1,"align":"left","baseline":"middle"},"encoding":{"text":{"condition":{"test":"datum.k=='b'","field":"name"},"value":""},"color":{"value":"#333333"}}},
    {"mark":{"type":"text","clip":true,"style":"pct","radius":96,"dx":-63,"align":"right","baseline":"bottom"},"encoding":{"text":{"condition":{"test":"datum.k=='a'","field":"pct"},"value":""},"color":{"value":"#111111"}}},
    {"mark":{"type":"text","clip":true,"style":"nm","radius":96,"dx":-63,"dy":1,"align":"right","baseline":"top"},"encoding":{"text":{"condition":{"test":"datum.k=='a'","field":"name"},"value":""},"color":{"value":"#333333"}}}
   ]}
 ]},
 {"spacing":0,"vconcat":[
  {"width":342,"height":2,"title":"2021年将保持什么样的仓位操作","data":{"values":[{"t":1}]},"mark":{"type":"rule","color":"#1a1a1a","strokeWidth":2.5},"encoding":{"y":{"datum":0,"type":"quantitative","scale":{"domain":[0,1]},"axis":null}}},
  {"width":342,"height":228,
   "data":{"values":[{"k":"a","v":5.1,"pct":"5.1%","name":"满仓操作"},{"k":"b","v":29.6,"pct":"29.6%","name":"70%-80%\n仓位操作"},{"k":"c","v":39.8,"pct":"39.8%","name":"50%-70%\n仓位操作"},{"k":"d","v":8.2,"pct":"8.2%","name":"30%-50%\n仓位操作"},{"k":"e","v":2.0,"pct":"2.0%","name":"30%以下"},{"k":"f","v":15.3,"pct":"15.3%","name":"看具体情况,\n随时调整"}]},
   "transform":[{"window":[{"op":"row_number","as":"o"}]}],
   "encoding":{"theta":{"field":"v","type":"quantitative","stack":true},"order":{"field":"o","type":"quantitative"}},
   "layer":[
    {"mark":{"type":"arc","outerRadius":92,"color":"#bdbdbd","xOffset":9,"yOffset":6}},
    {"mark":{"type":"arc","outerRadius":92,"stroke":"#ffffff","strokeWidth":1.5,"xOffset":9},"encoding":{"color":{"field":"k","type":"nominal","legend":null,"scale":{"domain":["a","b","c","d","e","f"],"range":["#c9c9c9","#a5cdef","#f2c2c2","#c9c9c9","#e1666b","#c9c9c9"]}}}},
    {"mark":{"type":"text","clip":true,"style":"pct","radius":82,"xOffset":9,"baseline":"middle"},"encoding":{"text":{"condition":{"test":"datum.k=='a'","field":"pct"},"value":""},"color":{"value":"#111111"}}},
    {"mark":{"type":"text","clip":true,"style":"pct","radius":64,"xOffset":9,"baseline":"middle"},"encoding":{"text":{"condition":{"test":"indexof(['d','f'],datum.k)>=0","field":"pct"},"value":""},"color":{"value":"#111111"}}},
    {"mark":{"type":"text","clip":true,"style":"pct","radius":52,"xOffset":9,"baseline":"bottom"},"encoding":{"text":{"condition":{"test":"indexof(['b','c'],datum.k)>=0","field":"pct"},"value":""},"color":{"value":"#111111"}}},
    {"mark":{"type":"text","clip":true,"style":"nm","radius":52,"xOffset":9,"dy":2,"baseline":"top","fontSize":15},"encoding":{"text":{"condition":{"test":"indexof(['b','c'],datum.k)>=0","field":"name"},"value":""},"color":{"value":"#333333"}}},
    {"mark":{"type":"text","clip":true,"style":"nm","radius":102,"xOffset":9,"dx":46,"align":"left","baseline":"middle"},"encoding":{"text":{"condition":{"test":"datum.k=='a'","field":"name"},"value":""},"color":{"value":"#333333"}}},
    {"mark":{"type":"text","clip":true,"style":"nm","radius":103,"xOffset":9,"dx":-24,"baseline":"middle"},"encoding":{"text":{"condition":{"test":"datum.k=='f'","field":"name"},"value":""},"color":{"value":"#333333"}}},
    {"mark":{"type":"text","clip":true,"style":"pct","radius":100,"xOffset":9,"dx":-20,"dy":-4,"align":"right","baseline":"bottom"},"encoding":{"text":{"condition":{"test":"datum.k=='e'","field":"pct"},"value":""},"color":{"value":"#111111"}}},
    {"mark":{"type":"text","clip":true,"style":"nm","radius":100,"xOffset":9,"dx":-20,"dy":-3,"align":"right","baseline":"top"},"encoding":{"text":{"condition":{"test":"datum.k=='e'","field":"name"},"value":""},"color":{"value":"#333333"}}},
    {"mark":{"type":"text","clip":true,"style":"nm","radius":100,"xOffset":9,"dx":-29,"dy":9,"baseline":"middle"},"encoding":{"text":{"condition":{"test":"datum.k=='d'","field":"name"},"value":""},"color":{"value":"#333333"}}}
   ]}
 ]},
 {"spacing":0,"vconcat":[
  {"width":340,"height":2,"title":"2021年将以哪种操作风格为主","data":{"values":[{"t":1}]},"mark":{"type":"rule","color":"#1a1a1a","strokeWidth":2.5},"encoding":{"y":{"datum":0,"type":"quantitative","scale":{"domain":[0,1]},"axis":null}}},
  {"width":340,"height":238,
   "data":{"values":[{"k":"a","v":57.2,"pct":"57.2%","name":"买入并\n长期持有"},{"k":"b","v":35.7,"pct":"35.7%","name":"波段操作"},{"k":"c","v":7.1,"pct":"7.1%","name":"快进快出，短线操作"}]},
   "transform":[{"window":[{"op":"row_number","as":"o"}]}],
   "encoding":{"theta":{"field":"v","type":"quantitative","stack":true},"order":{"field":"o","type":"quantitative"}},
   "layer":[
    {"mark":{"type":"arc","outerRadius":86,"color":"#bdbdbd","xOffset":7,"yOffset":6}},
    {"mark":{"type":"arc","outerRadius":86,"stroke":"#ffffff","strokeWidth":1.5,"xOffset":7},"encoding":{"color":{"field":"k","type":"nominal","legend":null,"scale":{"domain":["a","b","c"],"range":["#f2c2c2","#a5cdef","#c9c9c9"]}}}},
    {"mark":{"type":"text","clip":true,"style":"pct","radius":50,"xOffset":7,"dy":-2,"baseline":"bottom"},"encoding":{"text":{"condition":{"test":"indexof(['a','b'],datum.k)>=0","field":"pct"},"value":""},"color":{"value":"#111111"}}},
    {"mark":{"type":"text","clip":true,"style":"nm","radius":50,"xOffset":7,"baseline":"top","fontSize":15},"encoding":{"text":{"condition":{"test":"indexof(['a','b'],datum.k)>=0","field":"name"},"value":""},"color":{"value":"#333333"}}},
    {"mark":{"type":"text","clip":true,"style":"pct","radius":75,"xOffset":7,"baseline":"middle"},"encoding":{"text":{"condition":{"test":"datum.k=='c'","field":"pct"},"value":""},"color":{"value":"#111111"}}},
    {"mark":{"type":"text","clip":true,"style":"nm","radius":100,"xOffset":7,"dx":-48,"baseline":"middle"},"encoding":{"text":{"condition":{"test":"datum.k=='c'","field":"name"},"value":""},"color":{"value":"#333333"}}}
   ]}
 ]}
]},
{"spacing":25.5,"resolve":{"scale":{"color":"independent","theta":"independent"}},"hconcat":[
 {"spacing":10,"resolve":{"scale":{"color":"independent","theta":"independent"}},"vconcat":[
  {"spacing":0,"vconcat":[
   {"width":342,"height":2,"title":"对2021年投资收益的预期是","data":{"values":[{"t":1}]},"mark":{"type":"rule","color":"#1a1a1a","strokeWidth":2.5},"encoding":{"y":{"datum":0,"type":"quantitative","scale":{"domain":[0,1]},"axis":null}}},
   {"width":342,"height":252,
    "data":{"values":[{"k":"a","v":0,"pct":"0%","name":"负收益"},{"k":"b","v":12.2,"pct":"12.2%","name":"10%以下"},{"k":"c","v":61.2,"pct":"61.2%","name":"10%-40%"},{"k":"d","v":23.5,"pct":"23.5%","name":"40%-70%"},{"k":"e","v":3.1,"pct":"3.1%","name":"70%-100%"},{"k":"f","v":0,"pct":"0%","name":"100%以上"}]},
    "transform":[{"window":[{"op":"row_number","as":"o"}]}],
    "encoding":{"theta":{"field":"v","type":"quantitative","stack":true},"order":{"field":"o","type":"quantitative"}},
    "layer":[
     {"mark":{"type":"arc","outerRadius":90,"color":"#bdbdbd","xOffset":6,"yOffset":6}},
     {"mark":{"type":"arc","outerRadius":90,"stroke":"#ffffff","strokeWidth":1.5,"xOffset":6},"encoding":{"color":{"field":"k","type":"nominal","legend":null,"scale":{"domain":["a","b","c","d","e","f"],"range":["#b83c3c","#1f9be0","#efb3b3","#c9c9c9","#e1666b","#b83c3c"]}}}},
     {"mark":{"type":"text","clip":true,"style":"pct","radius":70,"xOffset":6,"baseline":"middle"},"encoding":{"text":{"condition":{"test":"datum.k=='b'","field":"pct"},"value":""},"color":{"value":"#111111"}}},
     {"mark":{"type":"text","clip":true,"style":"pct","radius":48,"xOffset":6,"baseline":"bottom"},"encoding":{"text":{"condition":{"test":"datum.k=='c'","field":"pct"},"value":""},"color":{"value":"#111111"}}},
     {"mark":{"type":"text","clip":true,"style":"nm","radius":48,"xOffset":6,"dy":2,"baseline":"top","fontSize":16},"encoding":{"text":{"condition":{"test":"datum.k=='c'","field":"name"},"value":""},"color":{"value":"#444444"}}},
     {"mark":{"type":"text","clip":true,"style":"pct","radius":55,"xOffset":6,"dy":14,"baseline":"bottom"},"encoding":{"text":{"condition":{"test":"datum.k=='d'","field":"pct"},"value":""},"color":{"value":"#111111"}}},
     {"mark":{"type":"text","clip":true,"style":"nm","radius":55,"xOffset":6,"dy":16,"baseline":"top","fontSize":16},"encoding":{"text":{"condition":{"test":"datum.k=='d'","field":"name"},"value":""},"color":{"value":"#444444"}}},
     {"mark":{"type":"text","clip":true,"style":"nm","radius":52,"xOffset":6,"dx":68,"align":"left","baseline":"middle","fontSize":16},"encoding":{"text":{"condition":{"test":"datum.k=='b'","field":"name"},"value":""},"color":{"value":"#444444"}}},
     {"mark":{"type":"text","clip":true,"style":"pct","radius":63,"xOffset":6,"dx":-79,"dy":-7,"align":"right","baseline":"bottom"},"encoding":{"text":{"condition":{"test":"datum.k=='e'","field":"pct"},"value":""},"color":{"value":"#111111"}}},
     {"mark":{"type":"text","clip":true,"style":"nm","radius":63,"xOffset":6,"dx":-79,"dy":0,"align":"right","baseline":"top","fontSize":16},"encoding":{"text":{"condition":{"test":"datum.k=='e'","field":"name"},"value":""},"color":{"value":"#444444"}}},
     {"mark":{"type":"text","clip":true,"style":"pct","radius":104,"xOffset":6,"dx":-28,"dy":-3,"align":"right","baseline":"bottom"},"encoding":{"text":{"condition":{"test":"datum.k=='f'","field":"pct"},"value":""},"color":{"value":"#111111"}}},
     {"mark":{"type":"text","clip":true,"style":"nm","radius":104,"xOffset":6,"dx":-28,"dy":3,"align":"right","baseline":"top","fontSize":16},"encoding":{"text":{"condition":{"test":"datum.k=='f'","field":"name"},"value":""},"color":{"value":"#444444"}}},
     {"mark":{"type":"text","clip":true,"style":"pct","radius":104,"xOffset":6,"dx":30,"dy":-3,"align":"left","baseline":"bottom"},"encoding":{"text":{"condition":{"test":"datum.k=='a'","field":"pct"},"value":""},"color":{"value":"#111111"}}},
     {"mark":{"type":"text","clip":true,"style":"nm","radius":104,"xOffset":6,"dx":30,"dy":3,"align":"left","baseline":"top","fontSize":16},"encoding":{"text":{"condition":{"test":"datum.k=='a'","field":"name"},"value":""},"color":{"value":"#444444"}}}
    ]}
  ]},
  {"spacing":0,"vconcat":[
   {"width":342,"height":2,"title":"2021年看好哪些主题","data":{"values":[{"t":1}]},"mark":{"type":"rule","color":"#1a1a1a","strokeWidth":2.5},"encoding":{"y":{"datum":0,"type":"quantitative","scale":{"domain":[0,1]},"axis":null}}},
   {"width":342,"height":277,"data":{"values":[
    {"k":"新能源","v":19.6,"t":"19.6%"},
    {"k":"5芯片、云计算","v":12.0,"t":"12.0%"},
    {"k":"通胀主题","v":8.4,"t":"8.4%"},
    {"k":"消费","v":11.8,"t":"11.8%"},
    {"k":"航空、酒店、旅游","v":5.9,"t":"5.9%"},
    {"k":"医药医疗健康","v":13.7,"t":"13.7%"},
    {"k":"人工智能","v":7.3,"t":"7.3%"},
    {"k":"文化传","v":2.2,"t":"2.2%"},
    {"k":"金融","v":7.6,"t":"7.6%"},
    {"k":"智能制造","v":9.8,"t":"9.8%"},
    {"k":"在线教育","v":1.7,"t":"1.7%"},
    {"k":"其他","v":0,"t":"0.0%"}]},
    "encoding":{"y":{"field":"k","type":"nominal","sort":null,"axis":null,"scale":{"paddingInner":0.41,"paddingOuter":0.5,"align":0.61}}},
    "layer":[
     {"mark":{"type":"bar","color":"#e58e8a"},"encoding":{"x":{"field":"v","type":"quantitative","scale":{"domain":[-21.8,33.1],"nice":false,"zero":false},"axis":{"orient":"bottom","domain":true,"domainColor":"#333333","domainWidth":2,"ticks":false,"labels":false,"grid":false,"title":null}},"x2":{"datum":0}}},
     {"mark":{"type":"rule","color":"#333333","strokeWidth":1.5},"encoding":{"x":{"datum":0}}},
     {"mark":{"type":"text","align":"right","dx":-6,"fontSize":15.5,"color":"#333333"},"encoding":{"x":{"datum":0},"text":{"field":"k"}}},
     {"mark":{"type":"text","style":"pct","align":"left","dx":5,"color":"#111111"},"encoding":{"x":{"field":"v","type":"quantitative"},"text":{"field":"t"}}}
    ]}
  ]}
 ]},
 {"spacing":80,"vconcat":[
  {"spacing":0,"vconcat":[
   {"width":336,"height":2,"title":"2021年较好的股市投资机会出现在","data":{"values":[{"t":1}]},"mark":{"type":"rule","color":"#1a1a1a","strokeWidth":2.5},"encoding":{"y":{"datum":0,"type":"quantitative","scale":{"domain":[0,1]},"axis":null}}},
   {"width":336,"height":132,"data":{"values":[
    {"k":"一季度","v":53.2,"t":"53.2%"},
    {"k":"二季度","v":14.3,"t":"14.3%"},
    {"k":"三季度","v":17.5,"t":"17.5%"},
    {"k":"四季度","v":15.1,"t":"15.1%"}]},
    "encoding":{"y":{"field":"k","type":"nominal","sort":null,"axis":null,"scale":{"paddingInner":0.5,"paddingOuter":0.607,"align":0.56}}},
    "layer":[
     {"mark":{"type":"bar","color":"#e58e8a"},"encoding":{"x":{"field":"v","type":"quantitative","scale":{"domain":[-20.7,69.6],"nice":false,"zero":false},"axis":{"orient":"bottom","domain":true,"domainColor":"#333333","domainWidth":2,"ticks":false,"labels":false,"grid":false,"title":null}},"x2":{"datum":0}}},
     {"mark":{"type":"rule","color":"#333333","strokeWidth":1.5},"encoding":{"x":{"datum":0}}},
     {"mark":{"type":"text","align":"right","dx":-9,"fontSize":15.5,"color":"#333333"},"encoding":{"x":{"datum":0},"text":{"field":"k"}}},
     {"mark":{"type":"text","style":"pct","align":"left","dx":6,"color":"#111111"},"encoding":{"x":{"field":"v","type":"quantitative"},"text":{"field":"t"}}}
    ]}
  ]},
  {"spacing":0,"vconcat":[
   {"width":336,"height":2,"title":"2021年，哪些资产最值得投资","data":{"values":[{"t":1}]},"mark":{"type":"rule","color":"#1a1a1a","strokeWidth":2.5},"encoding":{"y":{"datum":0,"type":"quantitative","scale":{"domain":[0,1]},"axis":null}}},
   {"width":336,"height":319,"data":{"values":[
    {"k":"股票","v":29.0,"t":"29.0%"},
    {"k":"房地产","v":14.3,"t":"14.3%"},
    {"k":"低风险理财产品","v":10.0,"t":"10.0%"},
    {"k":"债券","v":7.7,"t":"7.7%"},
    {"k":"信托","v":3.5,"t":"3.5%"},
    {"k":"美元资产","v":4.2,"t":"4.2%"},
    {"k":"黄金","v":4.6,"t":"4.6%"},
    {"k":"股权投资","v":6.6,"t":"6.6%"},
    {"k":"比特币","v":1.2,"t":"1.2%"},
    {"k":"金融期货、期权","v":7.7,"t":"7.7%"},
    {"k":"大宗商品","v":8.1,"t":"8.1%"},
    {"k":"另类投资","v":2.3,"t":"2.3%"},
    {"k":"艺术品","v":0.4,"t":"0.4%"},
    {"k":"其他","v":0.4,"t":"0.4%"}]},
    "encoding":{"y":{"field":"k","type":"nominal","sort":null,"axis":null,"scale":{"paddingInner":0.449,"paddingOuter":0.551,"align":0.54}}},
    "layer":[
     {"mark":{"type":"bar","color":"#e58e8a"},"encoding":{"x":{"field":"v","type":"quantitative","scale":{"domain":[-22.7,40.3],"nice":false,"zero":false},"axis":{"orient":"bottom","domain":true,"domainColor":"#333333","domainWidth":2,"ticks":false,"labels":false,"grid":false,"title":null}},"x2":{"datum":0}}},
     {"mark":{"type":"rule","color":"#333333","strokeWidth":1.5},"encoding":{"x":{"datum":0}}},
     {"mark":{"type":"text","align":"right","dx":-9,"fontSize":15.5,"color":"#333333"},"encoding":{"x":{"datum":0},"text":{"field":"k"}}},
     {"mark":{"type":"text","style":"pct","align":"left","dx":6,"color":"#111111"},"encoding":{"x":{"field":"v","type":"quantitative"},"text":{"field":"t"}}}
    ]}
  ]}
 ]},
 {"spacing":0,"vconcat":[
  {"width":344,"height":2,"title":"2021年最看好的行业与板块","data":{"values":[{"t":1}]},"mark":{"type":"rule","color":"#1a1a1a","strokeWidth":2.5},"encoding":{"y":{"datum":0,"type":"quantitative","scale":{"domain":[0,1]},"axis":null}}},
  {"width":344,"height":556,"data":{"values":[
   {"k":"金融","v":9.8,"t":"9.8%"},
   {"k":"农业","v":0.7,"t":"0.7%"},
   {"k":"地产、建材","v":1.4,"t":"1.4%"},
   {"k":"机械设备","v":6.7,"t":"6.7%"},
   {"k":"通讯","v":9.1,"t":"9.1%"},
   {"k":"石油、石化、化工","v":1.9,"t":"1.9%"},
   {"k":"煤炭","v":1.2,"t":"1.2%"},
   {"k":"电力","v":2.4,"t":"2.4%"},
   {"k":"军工、航天","v":7.2,"t":"7.2%"},
   {"k":"有色金属","v":3.1,"t":"3.1%"},
   {"k":"科技网络与传媒","v":5.0,"t":"5.0%"},
   {"k":"家电、电子元器件","v":4.1,"t":"4.1%"},
   {"k":"旅游","v":4.3,"t":"4.3%"},
   {"k":"纺织印染","v":0,"t":"0.0%"},
   {"k":"基础设施、公用事业","v":1.9,"t":"1.9%"},
   {"k":"环保","v":3.1,"t":"3.1%"},
   {"k":"医药、生物制药","v":11.2,"t":"11.2%"},
   {"k":"钢铁","v":0.5,"t":"0.5%"},
   {"k":"汽车","v":5.0,"t":"5.0%"},
   {"k":"商业、零售","v":1.7,"t":"1.7%"},
   {"k":"日常用品及消费与服务","v":5.5,"t":"5.5%"},
   {"k":"新能源、新材料","v":14.1,"t":"14.1%"},
   {"k":"交通运输","v":0.2,"t":"0.2%"},
   {"k":"其他","v":0,"t":"0.0%"}]},
   "encoding":{"y":{"field":"k","type":"nominal","sort":null,"axis":null,"scale":{"paddingInner":0.38,"paddingOuter":0.507,"align":0.48}}},
   "layer":[
    {"mark":{"type":"bar","color":"#e58e8a"},"encoding":{"x":{"field":"v","type":"quantitative","scale":{"domain":[-16.84,18.6],"nice":false,"zero":false},"axis":{"orient":"bottom","domain":true,"domainColor":"#333333","domainWidth":2,"ticks":false,"labels":false,"grid":false,"title":null}},"x2":{"datum":0}}},
    {"mark":{"type":"rule","color":"#333333","strokeWidth":1.5},"encoding":{"x":{"datum":0}}},
    {"mark":{"type":"text","align":"right","dx":-6,"fontSize":15,"color":"#333333"},"encoding":{"x":{"datum":0},"text":{"field":"k"}}},
    {"mark":{"type":"text","style":"pct","align":"left","dx":4,"color":"#111111"},"encoding":{"x":{"field":"v","type":"quantitative"},"text":{"field":"t"}}}
   ]}
 ]}
]}
]}
]}
]}
]}
]
}
